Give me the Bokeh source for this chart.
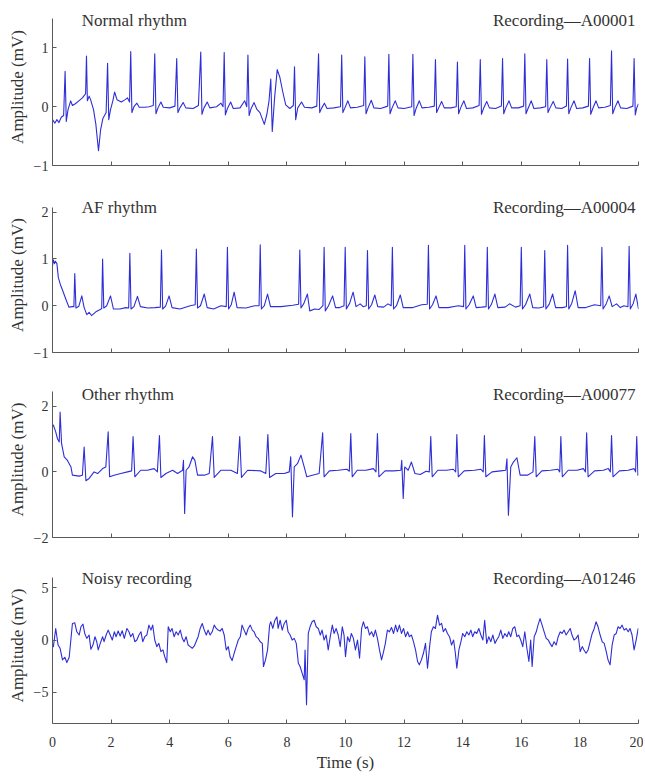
from bokeh.plotting import figure
from bokeh.models import Range1d, FixedTicker, Label
from bokeh.layouts import column
from bokeh.embed import file_html
from bokeh.resources import INLINE

# ---------------- data ----------------
time_ticks = [0, 2, 4, 6, 8, 10, 12, 14, 16, 18, 20]
panel_titles = ["Normal rhythm", "AF rhythm", "Other rhythm", "Noisy recording"]
record_ids = ["Recording\u2014A00001", "Recording\u2014A00004",
              "Recording\u2014A00077", "Recording\u2014A01246"]
amp_ticks = [[-1, 0, 1], [-1, 0, 1, 2], [-2, 0, 2], [-5, 0, 5]]
amp_limits = [(-1, 1.5), (-1, 2.1), (-2, 2.45), (-8, 6)]

# (time s, amplitude mV) vertices of each trace
normal_pts = [
    (0.00, -0.22), (0.08, -0.28), (0.15, -0.22), (0.22, -0.27), (0.30, -0.18), (0.38, -0.15),
    (0.43, 0.60), (0.47, -0.25), (0.53, -0.05), (0.62, 0.10), (0.68, 0.02), (0.78, 0.05),
    (0.90, 0.10), (1.02, 0.15), (1.10, 0.20), (1.13, 0.22),
    (1.16, 0.86), (1.19, 0.10), (1.25, 0.18), (1.30, 0.12), (1.40, -0.05), (1.48, -0.30),
    (1.57, -0.75), (1.64, -0.40), (1.72, -0.20), (1.83, -0.10),
    (1.88, 0.74), (1.92, -0.22), (1.98, -0.05), (2.06, 0.10), (2.12, 0.25), (2.20, 0.12),
    (2.35, 0.08), (2.48, 0.12), (2.56, 0.15), (2.63, 0.08),
    (2.67, 0.94), (2.71, -0.10), (2.78, 0.00), (2.88, 0.06), (2.96, -0.01), (3.15, -0.01),
    (3.30, 0.00), (3.44, 0.02),
    (3.49, 0.90), (3.53, -0.12), (3.60, -0.02), (3.70, 0.08), (3.78, -0.01), (4.00, -0.02), (4.18, 0.01),
    (4.24, 0.82), (4.28, -0.10), (4.35, -0.02), (4.46, 0.07), (4.55, -0.02), (4.80, -0.03), (4.98, 0.02),
    (5.06, 0.93), (5.10, -0.13), (5.17, -0.02), (5.28, 0.08), (5.37, -0.02), (5.60, 0.00),
    (5.75, 0.06), (5.82, 0.00),
    (5.86, 0.92), (5.90, -0.14), (5.97, -0.03), (6.08, 0.08), (6.17, -0.03), (6.40, -0.02),
    (6.56, 0.10), (6.63, 0.00),
    (6.67, 0.88), (6.71, -0.15), (6.78, -0.03), (6.88, 0.07), (6.97, -0.04), (7.08, -0.10),
    (7.23, -0.30), (7.32, -0.12), (7.39, 0.10), (7.45, 0.47), (7.50, -0.42), (7.58, 0.15),
    (7.67, 0.63), (7.76, 0.50), (7.86, 0.25), (7.96, 0.03), (8.10, -0.03), (8.22, 0.02),
    (8.26, 0.68), (8.30, -0.22), (8.37, -0.02), (8.50, 0.08), (8.60, -0.01), (8.85, -0.02), (9.02, 0.01),
    (9.08, 0.90), (9.12, -0.10), (9.19, -0.02), (9.28, 0.06), (9.37, -0.03), (9.60, -0.02), (9.83, 0.00),
    (9.87, 0.88), (9.91, -0.10), (9.98, -0.02), (10.08, 0.10), (10.17, -0.02), (10.40, -0.01), (10.62, 0.02),
    (10.66, 0.85), (10.70, -0.12), (10.77, -0.02), (10.88, 0.11), (10.97, -0.02), (11.20, -0.03), (11.44, 0.01),
    (11.48, 0.89), (11.52, -0.12), (11.59, -0.02), (11.70, 0.10), (11.79, -0.02), (12.00, -0.03), (12.26, 0.00),
    (12.30, 0.89), (12.34, -0.15), (12.41, -0.03), (12.52, 0.10), (12.61, -0.02), (12.85, -0.01), (13.03, 0.01),
    (13.07, 0.80), (13.11, -0.10), (13.18, -0.02), (13.28, 0.09), (13.37, -0.02), (13.60, -0.02), (13.78, 0.00),
    (13.82, 0.76), (13.86, -0.12), (13.93, -0.02), (14.04, 0.10), (14.13, -0.03), (14.35, -0.02), (14.56, 0.02),
    (14.60, 0.80), (14.64, -0.13), (14.71, -0.03), (14.82, 0.09), (14.91, -0.02), (15.12, -0.03), (15.32, 0.01),
    (15.36, 0.82), (15.40, -0.12), (15.47, -0.02), (15.58, 0.10), (15.67, -0.02), (15.90, -0.02), (16.08, 0.01),
    (16.12, 0.90), (16.16, -0.12), (16.23, -0.03), (16.34, 0.10), (16.43, -0.03), (16.65, -0.02), (16.83, 0.00),
    (16.87, 0.80), (16.91, -0.10), (16.98, -0.02), (17.09, 0.09), (17.18, -0.02), (17.38, -0.03), (17.54, 0.01),
    (17.58, 0.81), (17.62, -0.12), (17.69, -0.02), (17.80, 0.10), (17.89, -0.03), (18.10, -0.02), (18.29, 0.01),
    (18.33, 0.82), (18.37, -0.13), (18.44, -0.03), (18.55, 0.10), (18.64, -0.02), (18.85, -0.01), (19.04, 0.02),
    (19.08, 0.95), (19.12, -0.12), (19.19, -0.02), (19.30, 0.10), (19.39, -0.02), (19.60, -0.03), (19.81, 0.01),
    (19.85, 0.82), (19.89, -0.14), (19.94, -0.02), (20.00, 0.05),
]

af_pts = [
    (0.00, 0.85), (0.03, 0.98), (0.07, 0.90), (0.10, 0.95), (0.15, 0.90), (0.20, 0.60), (0.27, 0.45),
    (0.35, 0.32), (0.45, 0.15), (0.56, -0.03), (0.68, -0.02), (0.73, -0.02),
    (0.76, 0.69), (0.80, -0.05), (0.90, -0.01), (1.00, 0.21), (1.08, -0.04), (1.17, -0.19), (1.25, -0.14),
    (1.33, -0.21), (1.48, -0.13), (1.63, -0.08), (1.68, -0.06),
    (1.71, 1.00), (1.75, -0.05), (1.85, 0.00), (1.98, 0.21), (2.08, -0.07), (2.30, -0.07), (2.50, -0.04), (2.60, -0.05),
    (2.64, 1.12), (2.68, -0.07), (2.78, -0.02), (2.90, 0.20), (3.00, -0.02), (3.25, -0.05), (3.50, -0.04), (3.68, -0.03),
    (3.72, 1.19), (3.76, -0.07), (3.86, -0.01), (3.98, 0.21), (4.08, -0.04), (4.35, -0.07), (4.70, 0.00), (4.87, 0.02),
    (4.91, 1.21), (4.95, -0.05), (5.05, 0.00), (5.18, 0.25), (5.28, -0.04), (5.50, -0.07), (5.75, 0.00), (5.93, -0.02),
    (5.97, 1.25), (6.01, -0.07), (6.10, 0.02), (6.20, 0.29), (6.30, -0.04), (6.60, -0.05), (6.90, 0.00), (7.05, 0.00),
    (7.09, 1.30), (7.13, -0.07), (7.23, 0.00), (7.34, 0.25), (7.44, -0.02), (7.80, -0.02), (8.20, 0.01), (8.40, 0.03),
    (8.44, 1.19), (8.48, -0.05), (8.58, 0.05), (8.70, 0.25), (8.78, -0.11), (8.95, -0.07), (9.10, -0.08), (9.23, 0.00),
    (9.27, 1.25), (9.31, -0.11), (9.42, 0.00), (9.56, 0.21), (9.66, -0.04), (9.80, -0.04), (9.95, 0.00),
    (9.99, 1.25), (10.03, -0.07), (10.14, 0.05), (10.26, 0.29), (10.36, -0.02), (10.50, 0.04), (10.60, -0.02), (10.71, 0.00),
    (10.75, 1.18), (10.79, -0.07), (10.89, 0.02), (11.00, 0.23), (11.10, -0.02), (11.30, -0.03), (11.45, 0.04), (11.56, 0.00),
    (11.60, 1.25), (11.64, -0.07), (11.74, 0.00), (11.87, 0.23), (11.97, -0.04), (12.30, -0.04), (12.60, 0.02), (12.79, 0.03),
    (12.83, 1.29), (12.87, -0.07), (12.97, 0.02), (13.09, 0.21), (13.19, -0.04), (13.50, -0.04), (13.85, 0.00), (14.03, -0.02),
    (14.07, 1.29), (14.11, -0.07), (14.22, 0.02), (14.36, 0.21), (14.46, -0.04), (14.65, -0.03), (14.80, -0.02),
    (14.84, 1.25), (14.88, -0.07), (14.98, 0.03), (15.10, 0.25), (15.20, -0.04), (15.45, -0.03), (15.60, 0.04),
    (15.80, -0.03), (15.96, 0.00),
    (16.00, 1.25), (16.04, -0.07), (16.15, 0.03), (16.29, 0.25), (16.39, -0.04), (16.60, -0.05), (16.76, -0.02),
    (16.80, 1.18), (16.84, -0.07), (16.95, 0.03), (17.07, 0.25), (17.17, -0.04), (17.40, -0.04), (17.54, -0.02),
    (17.58, 1.29), (17.62, -0.07), (17.72, 0.05), (17.84, 0.32), (17.94, -0.04), (18.20, -0.04), (18.50, 0.02), (18.71, 0.00),
    (18.75, 1.25), (18.79, -0.07), (18.89, 0.03), (19.00, 0.21), (19.10, -0.02), (19.25, 0.04), (19.38, -0.04),
    (19.50, 0.00), (19.64, -0.02),
    (19.68, 1.27), (19.72, -0.07), (19.82, 0.05), (19.91, 0.25), (20.00, -0.07),
]

other_pts = [
    (0.00, 1.45), (0.03, 1.42), (0.11, 1.22), (0.17, 1.01), (0.23, 0.91), (0.26, 1.82), (0.31, 0.86),
    (0.40, 0.46), (0.51, 0.35), (0.63, 0.15), (0.68, -0.10), (0.91, -0.13), (1.02, -0.10),
    (1.08, 0.76), (1.14, -0.27), (1.25, -0.20), (1.42, 0.00), (1.54, -0.05), (1.71, 0.10), (1.82, 0.15),
    (1.90, 1.22), (1.95, -0.15), (2.10, -0.10), (2.33, -0.05), (2.56, 0.00), (2.70, 0.03),
    (2.75, 1.08), (2.81, -0.15), (3.01, 0.05), (3.24, 0.05), (3.47, 0.10), (3.58, 0.00),
    (3.65, 1.11), (3.70, -0.17), (3.87, -0.05), (4.10, 0.05), (4.27, -0.05), (4.44, 0.05),
    (4.47, 0.35), (4.51, -1.27), (4.56, 0.05), (4.66, 0.15), (4.78, 0.46), (4.86, 0.35), (4.95, -0.10),
    (5.18, -0.10), (5.35, -0.05),
    (5.46, 1.08), (5.52, -0.17), (5.75, 0.05), (6.09, 0.05), (6.31, -0.05),
    (6.39, 1.08), (6.45, -0.17), (6.66, 0.05), (7.11, 0.03), (7.28, -0.05),
    (7.35, 1.14), (7.41, -0.17), (7.62, -0.05), (7.91, -0.05), (8.08, 0.00),
    (8.13, 0.46), (8.19, -1.37), (8.25, 0.15), (8.36, 0.25), (8.48, 0.51), (8.59, 0.15), (8.68, -0.15),
    (8.87, -0.10), (9.10, -0.05),
    (9.22, 1.19), (9.27, -0.15), (9.45, 0.03), (9.75, 0.05), (10.05, 0.08), (10.13, 0.02),
    (10.18, 1.17), (10.23, -0.15), (10.40, 0.05), (10.70, 0.05), (10.95, 0.10), (11.04, 0.00),
    (11.09, 1.17), (11.14, -0.15), (11.35, 0.03), (11.65, 0.03), (11.89, 0.05),
    (11.92, 0.35), (11.97, -0.81), (12.02, 0.15), (12.14, 0.05), (12.25, 0.30), (12.37, -0.05),
    (12.55, -0.08), (12.75, 0.02), (12.86, 0.00),
    (12.91, 1.08), (12.96, -0.15), (13.15, 0.05), (13.45, 0.05), (13.68, 0.08), (13.76, 0.00),
    (13.80, 1.14), (13.85, -0.15), (14.05, 0.03), (14.40, 0.05), (14.62, 0.08), (14.70, 0.00),
    (14.74, 1.11), (14.79, -0.15), (15.00, 0.00), (15.30, 0.03), (15.47, 0.05),
    (15.51, 0.40), (15.56, -1.32), (15.64, 0.15), (15.73, 0.30), (15.85, 0.43), (15.96, -0.10),
    (16.21, -0.10), (16.40, 0.00),
    (16.46, 1.08), (16.51, -0.15), (16.70, 0.03), (17.00, 0.05), (17.25, 0.08), (17.31, 0.00),
    (17.35, 1.08), (17.40, -0.15), (17.60, 0.05), (17.90, 0.05), (18.12, 0.10), (18.19, 0.00),
    (18.23, 1.19), (18.28, -0.15), (18.50, 0.03), (18.80, 0.05), (18.97, 0.10), (19.04, 0.00),
    (19.08, 1.11), (19.13, -0.15), (19.35, 0.03), (19.65, 0.05), (19.85, 0.10), (19.90, 0.00),
    (19.94, 1.08), (19.98, -0.10), (20.00, -0.10),
]

noisy_pts = [
    (0.00, -0.55), (0.03, -0.63), (0.11, 1.11), (0.19, -0.48), (0.26, -0.79), (0.34, -1.90), (0.42, -1.65),
    (0.49, -2.16), (0.57, -1.65), (0.68, 1.59), (0.76, 1.65), (0.83, 0.79), (0.91, 0.48), (0.97, 1.27),
    (1.04, 1.52), (1.10, 0.63), (1.17, 0.16), (1.25, 0.48), (1.31, -0.89), (1.38, -0.48), (1.45, 0.32),
    (1.51, -0.16), (1.56, -0.95), (1.63, -0.32), (1.71, 0.32), (1.76, -0.16), (1.83, 0.48), (1.90, 0.95),
    (1.97, 0.48), (2.04, 0.00), (2.11, 0.79), (2.17, 0.32), (2.24, 0.86), (2.31, 0.38), (2.38, 0.89),
    (2.45, 0.16), (2.54, 1.11), (2.61, 0.79), (2.67, 0.32), (2.74, 0.63), (2.81, -0.16), (2.88, 0.00),
    (2.95, 0.48), (3.02, 0.79), (3.08, -0.16), (3.15, 0.32), (3.22, 0.48), (3.29, 1.43), (3.36, 0.95),
    (3.42, 1.43), (3.49, 0.00), (3.56, -0.63), (3.63, -0.32), (3.70, -1.11), (3.77, -0.95), (3.83, -1.59),
    (3.90, -2.16), (3.95, 1.27), (4.02, 0.79), (4.08, 1.11), (4.15, 0.32), (4.22, 0.79), (4.29, 0.48),
    (4.36, 0.95), (4.43, 0.16), (4.49, -0.16), (4.56, 0.32), (4.63, -0.48), (4.70, -0.63), (4.77, -0.79),
    (4.84, -0.57), (4.90, -0.16), (4.97, 0.32), (5.04, 1.11), (5.11, 1.59), (5.18, 0.95), (5.25, 0.48),
    (5.31, 0.95), (5.38, 0.48), (5.45, 0.79), (5.52, 1.43), (5.59, 1.11), (5.65, 0.95), (5.72, 0.86),
    (5.79, 1.11), (5.86, 0.48), (5.93, -0.95), (6.00, -0.63), (6.06, -1.59), (6.13, -1.97), (6.20, -1.27),
    (6.27, -0.63), (6.34, 0.00), (6.41, 0.32), (6.47, 1.43), (6.54, 0.95), (6.61, 0.48), (6.68, 1.11),
    (6.75, 1.43), (6.82, 0.95), (6.88, 0.79), (6.95, 0.32), (7.02, 0.16), (7.09, -0.16), (7.16, -0.32),
    (7.20, -2.54), (7.27, -1.90), (7.34, -0.95), (7.41, 1.43), (7.45, 1.75), (7.52, 1.11), (7.59, 1.90),
    (7.66, 2.22), (7.70, 1.11), (7.77, 1.90), (7.84, 0.95), (7.91, 1.59), (7.98, 1.90), (8.04, 0.79),
    (8.11, 0.48), (8.18, 0.00), (8.25, 0.16), (8.32, -0.32), (8.39, -2.22), (8.45, -2.54), (8.52, -3.17),
    (8.59, -3.81), (8.62, -0.95), (8.67, -6.19), (8.73, 0.63), (8.79, 1.27), (8.86, 1.75), (8.93, 1.90),
    (9.00, 1.27), (9.07, 1.11), (9.14, 0.48), (9.20, 0.95), (9.27, 0.00), (9.34, 0.48), (9.41, -0.95),
    (9.48, 0.32), (9.55, 1.43), (9.61, 0.63), (9.68, 1.11), (9.75, 0.48), (9.82, -0.63), (9.89, 1.27),
    (9.95, 0.48), (10.00, -1.59), (10.07, 0.32), (10.14, -0.16), (10.20, 0.63), (10.27, 0.16), (10.34, -0.95),
    (10.41, 0.00), (10.48, -1.75), (10.55, 1.11), (10.61, 1.75), (10.68, 1.11), (10.75, 1.27), (10.82, 0.48),
    (10.89, 0.79), (10.96, 0.32), (11.02, 0.95), (11.09, 0.16), (11.16, -0.95), (11.23, -1.90), (11.30, -1.11),
    (11.36, -0.32), (11.43, 0.95), (11.50, 0.79), (11.57, 1.21), (11.64, 0.63), (11.71, 1.43), (11.77, 0.79),
    (11.84, 1.43), (11.91, 0.63), (11.98, 1.11), (12.05, 0.32), (12.12, 0.79), (12.18, 0.32), (12.25, 0.48),
    (12.32, -0.16), (12.39, -0.95), (12.46, -2.06), (12.52, -2.38), (12.59, -1.90), (12.66, -1.27),
    (12.73, -0.32), (12.80, -2.70), (12.87, -0.63), (12.93, 0.79), (13.00, 1.27), (13.07, 1.11), (13.14, 2.38),
    (13.21, 1.43), (13.28, 1.59), (13.34, 0.79), (13.41, 1.11), (13.48, 0.63), (13.55, 0.32), (13.62, -0.48),
    (13.69, 0.00), (13.75, -1.27), (13.80, -2.70), (13.87, -0.95), (13.94, -0.16), (14.00, 0.63), (14.07, 0.32),
    (14.14, 0.79), (14.21, 0.48), (14.28, 0.95), (14.34, 0.32), (14.41, 0.79), (14.48, 0.63), (14.55, 1.11),
    (14.62, 0.48), (14.69, 0.00), (14.75, 1.90), (14.82, -0.32), (14.89, 0.32), (14.96, -0.16), (15.03, 0.48),
    (15.10, -0.32), (15.16, 0.00), (15.23, 0.32), (15.30, 0.95), (15.37, 0.16), (15.44, 0.63), (15.51, 0.32),
    (15.57, 0.79), (15.64, 0.32), (15.71, 1.11), (15.78, 1.27), (15.85, 0.32), (15.91, 0.48), (15.98, 0.00),
    (16.05, -0.63), (16.12, 0.79), (16.19, -0.79), (16.26, -2.06), (16.32, 0.00), (16.37, -2.54), (16.44, 0.32),
    (16.51, 0.79), (16.57, 1.43), (16.64, 2.06), (16.71, 1.43), (16.78, 0.79), (16.85, 0.16), (16.92, 0.00),
    (16.98, -0.32), (17.05, -0.63), (17.12, -0.16), (17.19, -0.48), (17.26, 0.32), (17.33, 0.79), (17.39, 0.63),
    (17.46, 0.95), (17.53, 0.48), (17.60, 0.79), (17.67, 1.11), (17.73, 0.48), (17.80, 0.00), (17.87, 0.16),
    (17.94, 0.48), (18.01, -1.11), (18.08, -0.63), (18.14, -0.95), (18.21, -1.27), (18.28, -0.95), (18.35, -0.16),
    (18.42, 0.63), (18.49, 1.11), (18.55, 1.75), (18.62, 1.27), (18.69, 0.48), (18.76, -0.16), (18.83, -0.32),
    (18.90, -1.11), (18.96, -1.90), (19.03, -2.38), (19.10, -0.48), (19.17, 0.48), (19.24, 0.63), (19.30, 1.27),
    (19.37, 1.11), (19.44, 1.43), (19.51, 0.95), (19.58, 1.11), (19.65, 0.79), (19.71, 1.11), (19.78, 0.48),
    (19.85, -0.95), (19.92, 0.00), (19.99, 1.11),
]

traces = [normal_pts, af_pts, other_pts, noisy_pts]
title_y = [1.47, 2.10, 2.37, 5.86]

# ---------------- layout ----------------
FONT = "'Liberation Serif', 'Times New Roman', serif"
TEXT = "#333333"
AXIS = "#5a5a5a"
LINE = "#2e2ed6"

axis_h = [147, 145, 146, 147]      # pixel height of the drawn y axis
head_px = 10                        # room above the axis for the panel texts
border_top = [8, 12, 10, 10]
border_bottom = [20, 19, 20, 50]
minus = {-1: "\u22121", -2: "\u22122", -5: "\u22125"}

figs = []
for i in range(4):
    last = i == 3
    lo, hi = amp_limits[i]
    top = hi + head_px * (hi - lo) / axis_h[i]
    frame_h = axis_h[i] + head_px
    p = figure(width=643, height=border_top[i] + frame_h + border_bottom[i],
               output_backend="svg", toolbar_location=None,
               x_range=Range1d(0, 20), y_range=Range1d(lo, top),
               min_border_left=52, min_border_right=5,
               min_border_top=border_top[i], min_border_bottom=border_bottom[i])
    p.outline_line_color = None
    p.grid.visible = False
    p.background_fill_color = "white"
    p.border_fill_color = "white"

    t_vals = [pt[0] for pt in traces[i]]
    mv_vals = [pt[1] for pt in traces[i]]
    p.line(t_vals, mv_vals, line_color=LINE, line_width=1.1, line_join="round")

    for ax in (p.xaxis[0], p.yaxis[0]):
        ax.axis_line_color = AXIS
        ax.major_tick_line_color = AXIS
        ax.major_tick_in = 4
        ax.major_tick_out = 0
        ax.minor_tick_line_color = None
        ax.major_label_text_font = FONT
        ax.major_label_text_font_size = "14px"
        ax.major_label_text_color = TEXT
        ax.axis_label_text_font = FONT
        ax.axis_label_text_font_style = "normal"
        ax.axis_label_text_color = TEXT

    p.xaxis.ticker = FixedTicker(ticks=time_ticks)
    p.yaxis.ticker = FixedTicker(ticks=amp_ticks[i])
    p.yaxis.bounds = (lo, hi)
    p.yaxis.major_label_overrides = {k: v for k, v in minus.items() if k in amp_ticks[i]}
    p.yaxis.major_label_standoff = 4
    p.yaxis.axis_label = "Amplitude (mV)"
    p.yaxis.axis_label_text_font_size = "17px"
    p.yaxis.axis_label_standoff = 4

    if last:
        p.xaxis.axis_label = "Time (s)"
        p.xaxis.axis_label_text_font_size = "17px"
        p.xaxis.major_label_standoff = 13
        p.xaxis.axis_label_standoff = 3
    else:
        p.xaxis.major_label_overrides = {t: "" for t in time_ticks}
        p.xaxis.major_label_standoff = 0

    p.add_layout(Label(x=1.0, y=title_y[i], text=panel_titles[i], text_font=FONT,
                       text_font_size="17px", text_color=TEXT, text_baseline="middle"))
    p.add_layout(Label(x=19.9, y=title_y[i], text=record_ids[i], text_font=FONT,
                       text_font_size="17px", text_color=TEXT, text_align="right",
                       text_baseline="middle"))
    figs.append(p)

layout = column(*figs, spacing=0)
open("out.html", "w").write(file_html(layout, INLINE))
